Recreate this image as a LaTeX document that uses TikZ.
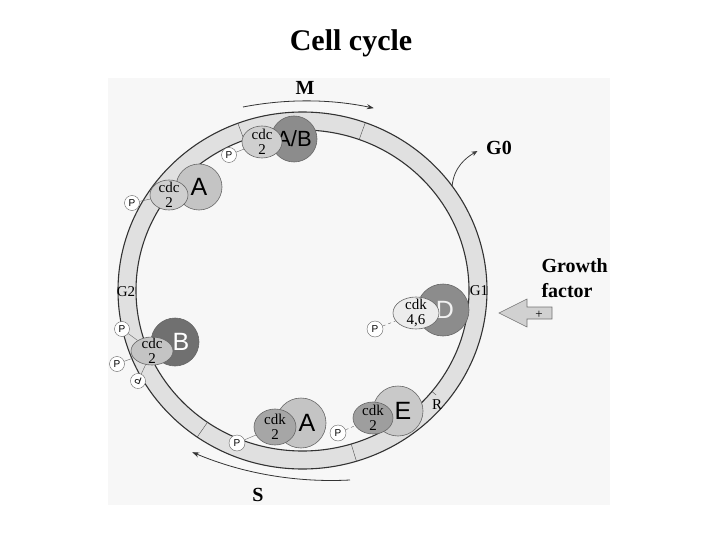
\documentclass[tikz,border=0pt]{standalone}
\usepackage{fontspec}
\setmainfont{Liberation Serif}
\setsansfont{Liberation Sans}
\usetikzlibrary{shapes.geometric,arrows.meta}

\definecolor{ringgray}{HTML}{E0E0E0}
\definecolor{lightcyc}{HTML}{C4C4C4}
\definecolor{darkcyc}{HTML}{8C8C8C}
\definecolor{darkercyc}{HTML}{707070}
\definecolor{cdcgray}{HTML}{CFCFCF}
\definecolor{cdkgray}{HTML}{A6A6A6}
\definecolor{palegray}{HTML}{ECECEC}

\tikzset{
  cyclin/.style={circle, draw=black!60, line width=0.6pt, inner sep=0pt,
    font=\sffamily\fontsize{25}{25}\selectfont},
  kinase/.style={ellipse, draw=black!60, line width=0.6pt, inner sep=-6pt,
    align=center, font=\fontsize{15}{15.5}\selectfont},
  phos/.style={circle, draw=black!60, fill=white, inner sep=0pt,
    minimum size=15pt, font=\sffamily\fontsize{10}{10}\selectfont},
  phase/.style={font=\fontsize{15}{15}\selectfont, inner sep=1pt},
  biglabel/.style={font=\bfseries\fontsize{20}{25}\selectfont},
  ringline/.style={draw=black!80, line width=1.1pt},
}

\begin{document}
\begin{tikzpicture}[x=1pt,y=1pt]
  \useasboundingbox (0,0) rectangle (720,-540);
  % 背景
  \fill[black!3] (108,-78) rectangle (610,-505);
  % タイトル
  \node[font=\bfseries\fontsize{30}{30}\selectfont] (title) at (351,-43) {Cell cycle};

  % 細胞周期のリング
  \coordinate (c) at (302.5,-290.5);
  \fill[ringgray, even odd rule] (c) ellipse [x radius=184.5, y radius=178.5]
    (c) ellipse [x radius=166.5, y radius=160.5];
  \draw[ringline] (c) ellipse [x radius=184.5, y radius=178.5];
  \draw[ringline] (c) ellipse [x radius=166.5, y radius=160.5];
  % 区切り線
  \foreach \a in {110.5,70.1,235.2,-73}
    \draw[black!70] ([shift={(\a:166.5 and 160.5)}]c) -- ([shift={(\a:184.5 and 178.5)}]c);
  \draw[black!70] ([shift={(-39:166.5 and 160.5)}]c) -- ([shift={(-39:172 and 166)}]c);

  % 相の名前
  \node[phase] (g2) at (126,-292) {G2};
  \node[phase] (g1) at (479,-291) {G1};
  \node[phase] (r) at (437,-405) {R};

  % M 期の矢印
  \node[biglabel] (m) at (305,-88) {M};
  \coordinate (mstart) at (243,-107);
  \draw[black!80, line width=0.8pt, -{Stealth[length=7pt,width=5pt]}] (mstart) arc[start angle=101, end angle=78, radius=328];
  % S 期の矢印
  \node[biglabel] (s) at (258,-495) {S};
  \coordinate (sstart) at (350,-480);
  \draw[black!80, line width=0.8pt, -{Stealth[length=7pt,width=5pt]}] (sstart) arc[start angle=-87, end angle=-113, radius=356];

  % G0 への矢印
  \node[biglabel] (g0) at (499,-148) {G0};
  \coordinate (g0start) at ([shift={(35.8:184.5 and 178.5)}]c);
  \draw[black!75, line width=0.8pt, -{Stealth[length=6pt,width=5pt]}, shorten >=6pt] (g0start) to[out=85, in=-150] (g0.west);

  % 増殖因子
  \node[biglabel, anchor=west, align=left] (gf) at (538,-278) {Growth\\factor};
  \filldraw[fill=black!18, draw=black!55, line width=0.6pt] (499,-313) -- (527,-299) -- (527,-307) -- (552,-307)
    -- (552,-319) -- (527,-319) -- (527,-327) -- cycle;
  \node[font=\fontsize{13}{13}\selectfont] (plus) at (539,-315) {+};

  % A/B と cdc2
  \node[cyclin, fill=darkcyc, minimum size=46pt, font=\sffamily\fontsize{22}{22}\selectfont] (ab) at (294,-139) {A/B};
  \node[kinase, fill=cdcgray, minimum width=40pt, minimum height=32pt] (cdcab) at (262,-142) {cdc\\2};
  \node[phos] (pab) at (229,-155) {P};
  \draw[black!60] (pab) -- (cdcab);

  % A と cdc2（上）
  \node[cyclin, fill=lightcyc, minimum size=46pt] (am) at (199,-187) {A};
  \node[kinase, fill=cdcgray, minimum width=38pt, minimum height=30pt] (cdcam) at (169,-195) {cdc\\2};
  \node[phos] (pam) at (132,-203) {P};
  \draw[black!60] (pam) -- (cdcam);

  % B と cdc2
  \node[cyclin, fill=darkercyc, minimum size=48pt, text=white] (b) at (175,-342) {\hspace*{12pt}B};
  \node[kinase, fill=lightcyc, minimum width=42pt, minimum height=28pt] (cdcb) at (152,-351) {cdc\\2};
  \node[phos] (pb1) at (122,-329) {P};
  \node[phos] (pb2) at (117,-364) {P};
  \node[phos, rotate=160] (pb3) at (138,-381) {P};
  \draw[black!60] (pb1) -- (cdcb);
  \draw[black!60] (pb2) -- (cdcb);
  \draw[black!60] (pb3) -- (cdcb);

  % A と cdk2（下）
  \node[cyclin, fill=lightcyc, minimum size=50pt] (as) at (301,-423) {\hspace*{12pt}A};
  \node[kinase, fill=cdkgray, minimum width=42pt, minimum height=36pt] (cdkas) at (275,-427) {cdk\\2};
  \node[phos, minimum size=16pt] (pas) at (237,-443) {P};
  \draw[black!60] (pas) -- (cdkas);

  % E と cdk2
  \node[cyclin, fill=black!21, minimum size=50pt] (e) at (398,-411) {\hspace*{10pt}E};
  \node[kinase, fill=black!38, minimum width=40pt, minimum height=32pt] (cdke) at (373,-418) {cdk\\2};
  \node[phos, minimum size=16pt] (pe) at (338,-433) {P};
  \draw[black!60, dashed] (pe) -- (cdke);

  % D と cdk4,6
  \node[cyclin, fill=darkcyc, minimum size=52pt, text=black!5] (d) at (443,-310) {\hspace*{4pt}D};
  \node[kinase, fill=palegray, minimum width=46pt, minimum height=32pt] (cdkd) at (416,-313) {cdk\\4,6};
  \node[phos, minimum size=16pt] (pd) at (375,-329) {P};
  \draw[black!60, dashed] (pd) -- (cdkd);
\end{tikzpicture}
\end{document}
